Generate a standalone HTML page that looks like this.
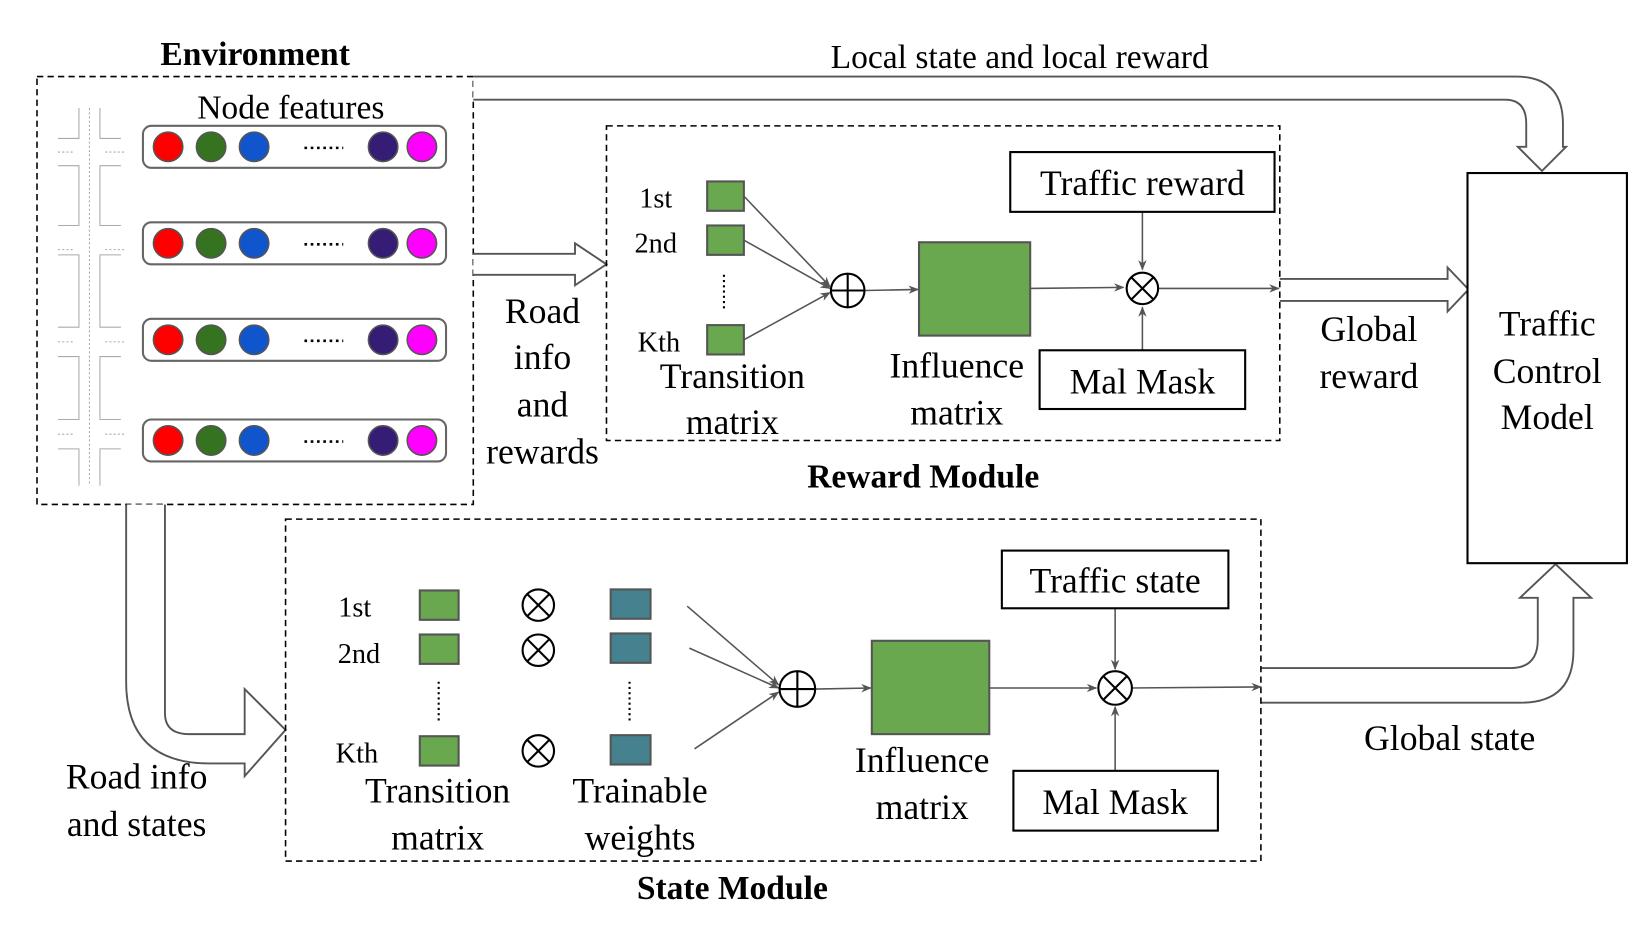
<!DOCTYPE html>
<html><head><meta charset="utf-8"><style>
html,body{margin:0;padding:0;background:#fff;}
svg{display:block;}
text{font-family:"Liberation Serif",serif;fill:#000;}
</style></head><body>
<svg width="1644" height="925" viewBox="0 0 1567 882" xmlns="http://www.w3.org/2000/svg">
<defs>
<marker id="ah" markerWidth="10" markerHeight="8" refX="9" refY="4" orient="auto" markerUnits="userSpaceOnUse"><path d="M0,0 L10,4 L0,8 L3,4 Z" fill="#555"/></marker>
</defs>
<g font-size="32">
<text x="243" y="62" text-anchor="middle" font-weight="bold">Environment</text>
<text x="972" y="65" text-anchor="middle">Local state and local reward</text>
</g>
<rect x="35" y="73" width="416" height="408" fill="none" stroke="#000" stroke-width="1.5" stroke-dasharray="6,4"/>
<text x="277" y="113" text-anchor="middle" font-size="32">Node features</text>
<g stroke="#aaa" stroke-width="1" fill="none">
<path d="M75,103 V132 H55 M95,103 V132 H115 M55,158 H75 V215 H55 M115,158 H95 V215 H115 M55,243 H75 V312 H55 M115,243 H95 V312 H115 M55,340 H75 V400 H55 M115,340 H95 V400 H115 M55,428 H75 V463 M115,428 H95 V463"/>
<path stroke-dasharray="2,2" d="M85,103 V463 M55,145 H70 M100,145 H118 M55,238 H70 M100,238 H118 M55,326 H70 M100,326 H118 M55,414 H70 M100,414 H118"/>
</g>
<g>
<g>
<rect x="136" y="120" width="289" height="40" rx="8" fill="#fff" stroke="#666" stroke-width="2"/>
<circle cx="160" cy="140" r="14" fill="#f00" stroke="#555" stroke-width="1.5"/>
<circle cx="201" cy="140" r="14" fill="#367320" stroke="#555" stroke-width="1.5"/>
<circle cx="242" cy="140" r="14" fill="#1155cc" stroke="#555" stroke-width="1.5"/>
<circle cx="365" cy="140" r="14" fill="#351c75" stroke="#555" stroke-width="1.5"/>
<circle cx="402" cy="140" r="14" fill="#f0f" stroke="#555" stroke-width="1.5"/>
<path d="M290,141 H327" stroke="#000" stroke-width="2.5" stroke-dasharray="2.5,3.5"/>
</g>
<g transform="translate(0,92)">
<rect x="136" y="120" width="289" height="40" rx="8" fill="#fff" stroke="#666" stroke-width="2"/>
<circle cx="160" cy="140" r="14" fill="#f00" stroke="#555" stroke-width="1.5"/>
<circle cx="201" cy="140" r="14" fill="#367320" stroke="#555" stroke-width="1.5"/>
<circle cx="242" cy="140" r="14" fill="#1155cc" stroke="#555" stroke-width="1.5"/>
<circle cx="365" cy="140" r="14" fill="#351c75" stroke="#555" stroke-width="1.5"/>
<circle cx="402" cy="140" r="14" fill="#f0f" stroke="#555" stroke-width="1.5"/>
<path d="M290,141 H327" stroke="#000" stroke-width="2.5" stroke-dasharray="2.5,3.5"/>
</g>
<g transform="translate(0,184)">
<rect x="136" y="120" width="289" height="40" rx="8" fill="#fff" stroke="#666" stroke-width="2"/>
<circle cx="160" cy="140" r="14" fill="#f00" stroke="#555" stroke-width="1.5"/>
<circle cx="201" cy="140" r="14" fill="#367320" stroke="#555" stroke-width="1.5"/>
<circle cx="242" cy="140" r="14" fill="#1155cc" stroke="#555" stroke-width="1.5"/>
<circle cx="365" cy="140" r="14" fill="#351c75" stroke="#555" stroke-width="1.5"/>
<circle cx="402" cy="140" r="14" fill="#f0f" stroke="#555" stroke-width="1.5"/>
<path d="M290,141 H327" stroke="#000" stroke-width="2.5" stroke-dasharray="2.5,3.5"/>
</g>
<g transform="translate(0,280)">
<rect x="136" y="120" width="289" height="40" rx="8" fill="#fff" stroke="#666" stroke-width="2"/>
<circle cx="160" cy="140" r="14" fill="#f00" stroke="#555" stroke-width="1.5"/>
<circle cx="201" cy="140" r="14" fill="#367320" stroke="#555" stroke-width="1.5"/>
<circle cx="242" cy="140" r="14" fill="#1155cc" stroke="#555" stroke-width="1.5"/>
<circle cx="365" cy="140" r="14" fill="#351c75" stroke="#555" stroke-width="1.5"/>
<circle cx="402" cy="140" r="14" fill="#f0f" stroke="#555" stroke-width="1.5"/>
<path d="M290,141 H327" stroke="#000" stroke-width="2.5" stroke-dasharray="2.5,3.5"/>
</g>
</g>
<g fill="#fff" stroke="#555" stroke-width="1.8">
<path d="M451,73 H1445 Q1490,73 1490,118 V140 H1493 L1470,163 L1447,140 H1455 V118 Q1455,95 1435,95 H451"/>
<path d="M451,242 H548 V232 L578,252 L548,272 V262 H451"/>
<path d="M1220,266 H1380 V255 L1400,276 L1380,297 V287 H1220"/>
<path d="M1202,637 H1440 Q1466,637 1466,610 V570 H1449 L1483,538 L1517,570 H1500 V620 Q1500,670 1450,670 H1202"/>
<path d="M120,481 V650 Q120,728 200,728 H233 V740 L272,696 L233,657 V700 H180 Q157,700 157,680 V481"/>
</g>
<g font-size="34" text-anchor="middle">
<text x="517" y="308">Road</text><text x="517" y="352">info</text><text x="517" y="397">and</text><text x="517" y="442">rewards</text>
<text x="1305" y="325">Global</text><text x="1305" y="370">reward</text>
<text x="1382" y="715">Global state</text>
<text x="130" y="752">Road info</text><text x="130" y="797">and states</text>
</g>
<rect x="1399" y="165" width="152" height="372" fill="#fff" stroke="#000" stroke-width="2"/>
<g font-size="34" text-anchor="middle"><text x="1475" y="320">Traffic</text><text x="1475" y="365">Control</text><text x="1475" y="409">Model</text></g>

<rect x="578" y="120" width="642" height="300" fill="none" stroke="#000" stroke-width="1.5" stroke-dasharray="6,4"/>
<g font-size="27" text-anchor="middle"><text x="625" y="198">1st</text><text x="625" y="241">2nd</text><text x="628" y="335">Kth</text></g>
<g fill="#6aa84f" stroke="#555" stroke-width="2">
<rect x="674" y="173" width="35" height="28"/><rect x="674" y="215" width="35" height="28"/><rect x="674" y="310" width="35" height="28"/>
<rect x="876" y="231" width="106" height="89"/>
</g>
<path d="M690,262 V297" stroke="#000" stroke-width="2" stroke-dasharray="2,3"/>
<g stroke="#555" stroke-width="1.5" fill="none" marker-end="url(#ah)">
<path d="M709,187 L791,273"/><path d="M709,229 L791,275"/><path d="M709,324 L791,279"/>
<path d="M825,277 L875,276"/><path d="M982,275 L1071,274"/>
<path d="M1089,202 V257"/><path d="M1089,334 V293"/><path d="M1104,275 H1219"/>
</g>
<circle cx="808" cy="277" r="16" fill="#fff" stroke="#000" stroke-width="2"/>
<path d="M792,277 H824 M808,261 V293" stroke="#000" stroke-width="2"/>
<circle cx="1089" cy="275" r="15" fill="#fff" stroke="#000" stroke-width="2"/>
<path d="M1078,264 L1100,286 M1100,264 L1078,286" stroke="#000" stroke-width="2"/>
<rect x="963" y="145" width="252" height="57" fill="#fff" stroke="#000" stroke-width="2"/>
<rect x="991" y="334" width="196" height="56" fill="#fff" stroke="#000" stroke-width="2"/>
<g font-size="34" text-anchor="middle">
<text x="1089" y="186">Traffic reward</text><text x="1089" y="375">Mal Mask</text>
<text x="698" y="370">Transition</text><text x="698" y="414">matrix</text>
<text x="912" y="360">Influence</text><text x="912" y="405">matrix</text>
</g>
<text x="880" y="465" font-size="32" font-weight="bold" text-anchor="middle">Reward Module</text>

<rect x="272" y="495" width="930" height="326" fill="none" stroke="#000" stroke-width="1.5" stroke-dasharray="6,4"/>
<g font-size="27" text-anchor="middle"><text x="338" y="588">1st</text><text x="342" y="632">2nd</text><text x="340" y="727">Kth</text></g>
<g fill="#6aa84f" stroke="#555" stroke-width="2">
<rect x="400" y="563" width="37" height="28"/><rect x="400" y="605" width="37" height="28"/><rect x="400" y="702" width="37" height="28"/>
<rect x="831" y="611" width="112" height="89"/>
</g>
<g fill="#45818e" stroke="#555" stroke-width="2">
<rect x="582" y="562" width="38" height="28"/><rect x="582" y="604" width="38" height="28"/><rect x="582" y="701" width="38" height="28"/>
</g>
<path d="M418,650 V688 M600,650 V688" stroke="#000" stroke-width="2" stroke-dasharray="2,3"/>
<g stroke="#000" stroke-width="2" fill="#fff">
<circle cx="513" cy="577" r="15"/><circle cx="513" cy="620" r="15"/><circle cx="513" cy="716" r="15"/>
<path d="M502,566 L524,588 M524,566 L502,588 M502,609 L524,631 M524,609 L502,631 M502,705 L524,727 M524,705 L502,727"/>
</g>
<g stroke="#555" stroke-width="1.5" fill="none" marker-end="url(#ah)">
<path d="M655,578 L742,653"/><path d="M657,618 L742,656"/><path d="M662,714 L742,660"/>
<path d="M777,657 L830,656"/><path d="M943,656 L1045,656"/>
<path d="M1063,580 V638"/><path d="M1063,735 V674"/><path d="M1078,656 L1202,655"/>
</g>
<circle cx="760" cy="657" r="17" fill="#fff" stroke="#000" stroke-width="2"/>
<path d="M743,657 H777 M760,640 V674" stroke="#000" stroke-width="2"/>
<circle cx="1063" cy="656" r="16" fill="#fff" stroke="#000" stroke-width="2"/>
<path d="M1052,645 L1074,667 M1074,645 L1052,667" stroke="#000" stroke-width="2"/>
<rect x="955" y="525" width="216" height="55" fill="#fff" stroke="#000" stroke-width="2"/>
<rect x="966" y="735" width="195" height="57" fill="#fff" stroke="#000" stroke-width="2"/>
<g font-size="34" text-anchor="middle">
<text x="1063" y="565">Traffic state</text><text x="1063" y="776">Mal Mask</text>
<text x="417" y="765">Transition</text><text x="417" y="810">matrix</text>
<text x="610" y="765">Trainable</text><text x="610" y="810">weights</text>
<text x="879" y="736">Influence</text><text x="879" y="781">matrix</text>
</g>
<text x="698" y="857" font-size="32" font-weight="bold" text-anchor="middle">State Module</text>
</svg>
</body></html>
